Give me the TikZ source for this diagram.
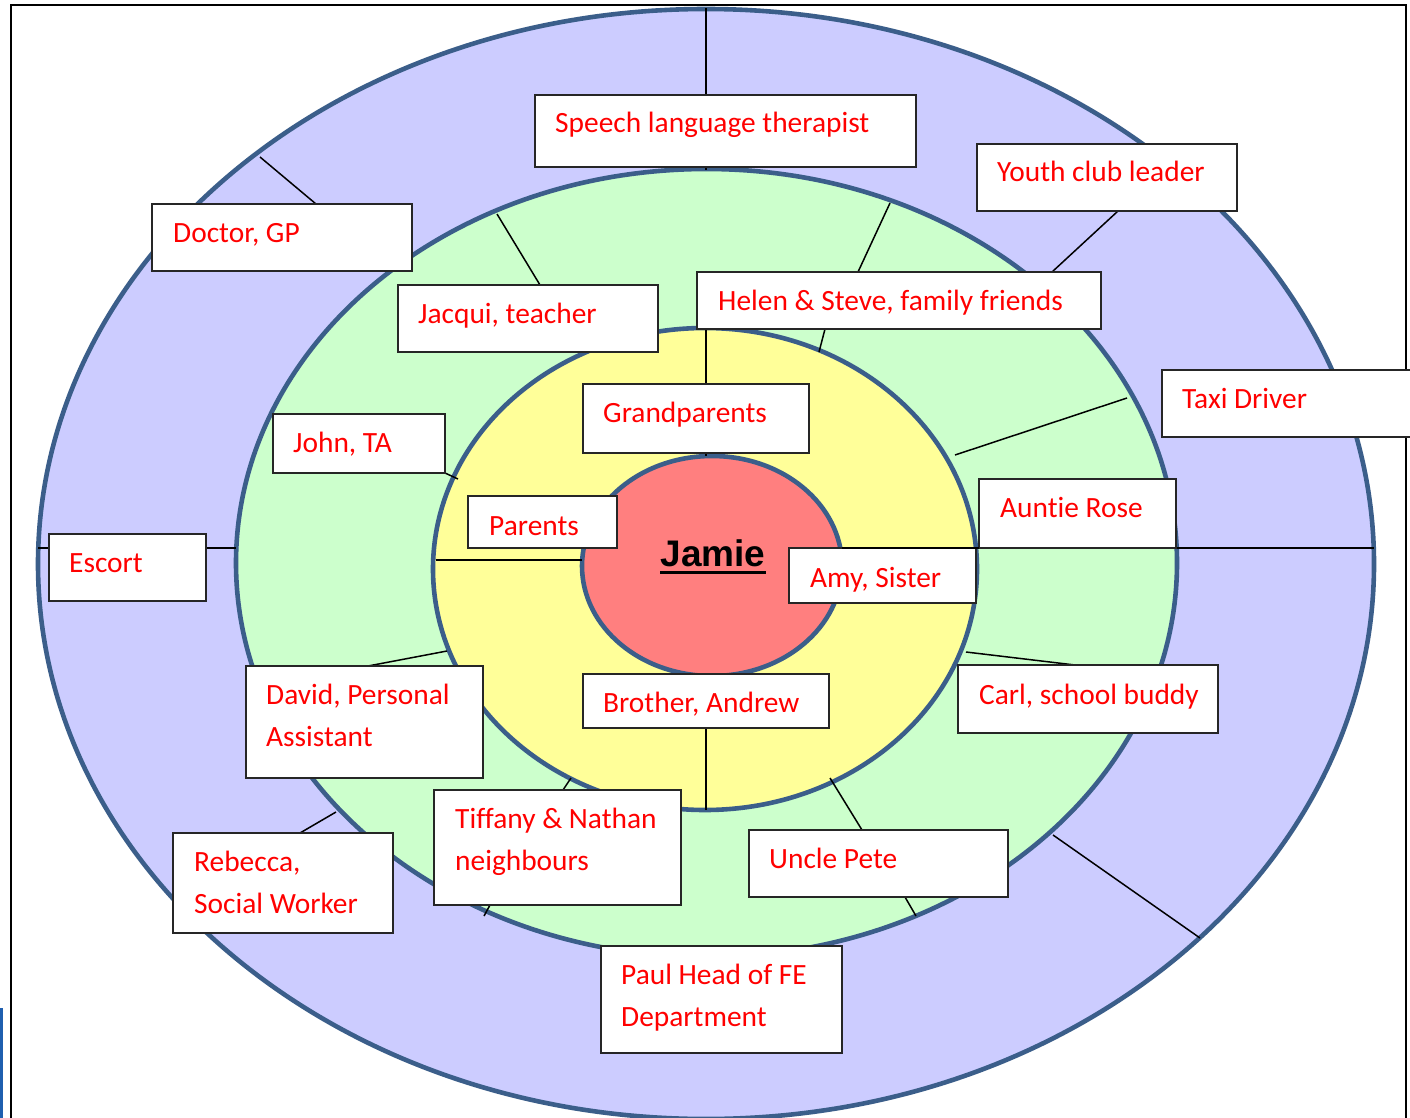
\documentclass[tikz,border=0pt]{standalone}
\usepackage{fontspec}
\setmainfont{Carlito}[Ligatures={NoCommon}]
\newfontfamily\jamiefont{Liberation Sans}
\definecolor{ringline}{HTML}{3B5E8A}
\definecolor{outerfill}{HTML}{CCCCFF}
\definecolor{midfill}{HTML}{CCFFCC}
\definecolor{innerfill}{HTML}{FFFF99}
\definecolor{corefill}{HTML}{FF7F7F}
\definecolor{edgeblue}{HTML}{1F5FAF}
\tikzset{
  ring/.style={draw=ringline, line width=4.6pt},
  conn/.style={draw=black, line width=1.5pt},
  labelbox/.style={draw=black!85, line width=1.3pt, fill=white, rectangle, anchor=north west, inner sep=0pt, outer sep=0pt},
  lbl/.style={text=red, font=\fontsize{29.4}{42}\selectfont, anchor=base west, inner sep=0pt},
}
\begin{document}
\begin{tikzpicture}[x=1pt, y=-1pt]
\useasboundingbox (0,0) rectangle (1410,1118);
\clip (0,0) rectangle (1410,1118);
\fill[white] (0,0) rectangle (1410,1118);
% frame
\draw[line width=1.5pt] (11,1130) -- (11,5) -- (1406,5) -- (1406,1130);
\draw[edgeblue, line width=3pt] (1,1008) -- (1,1125);
% rings
\draw[ring, fill=outerfill] (706,564) ellipse [x radius=668pt, y radius=555pt];
\draw[ring, fill=midfill] (706.5,563) ellipse [x radius=470.5pt, y radius=394pt];
\draw[ring, fill=innerfill] (705,569) ellipse [x radius=272pt, y radius=241pt];
\draw[ring, fill=corefill] (712,566) ellipse [x radius=130pt, y radius=110pt];
% coordinates on the rings
\coordinate (oTop) at (706,8);
\coordinate (gTop) at (706,170);
\coordinate (oDoc) at (260,157);
\coordinate (gJac) at (497,214);
\coordinate (gHel) at (890,203);
\coordinate (yHel) at (819,352);
\coordinate (gYou) at (1052,272);
\coordinate (yGra) at (706,329);
\coordinate (rGra) at (706,456);
\coordinate (yJoh) at (458,479);
\coordinate (yTax) at (955,455);
\coordinate (oTax) at (1127,398);
\coordinate (rAun) at (842,548);
\coordinate (oAun) at (1374,548);
\coordinate (oEsc) at (38,548);
\coordinate (gEsc) at (236,548);
\coordinate (yPar) at (436,560);
\coordinate (rPar) at (582,560);
\coordinate (yDav) at (447,651);
\coordinate (yCar) at (966,652);
\coordinate (yBro) at (706,810);
\coordinate (yTif) at (571,778);
\coordinate (gTif) at (484,916);
\coordinate (gReb) at (336,812);
\coordinate (yPet) at (830,778);
\coordinate (gPet) at (916,916);
\coordinate (gOut) at (1053,835);
\coordinate (oOut) at (1200,938);
% box-side coordinates
\coordinate (bSpT) at (706,95);
\coordinate (bSpB) at (706,167);
\coordinate (bDoc) at (316,204);
\coordinate (bJac) at (540,285);
\coordinate (bHelT) at (858,272);
\coordinate (bHelB) at (825,329);
\coordinate (bGraT) at (706,384);
\coordinate (bGraB) at (706,453);
\coordinate (bJoh) at (445,473);
\coordinate (bAun) at (979,548);
\coordinate (bAunR) at (1176,548);
\coordinate (bEscL) at (49,548);
\coordinate (bEscR) at (206,548);
\coordinate (bDav) at (368,666);
\coordinate (bCar) at (1075,665);
\coordinate (bBro) at (706,728);
\coordinate (bTifT) at (563,790);
\coordinate (bTifB) at (490,905);
\coordinate (bReb) at (300,833);
\coordinate (bPetT) at (862,830);
\coordinate (bPetB) at (905,897);
\coordinate (bYou) at (1118,211);
% connectors
\draw[conn] (oTop) -- (bSpT);
\draw[conn] (bSpB) -- (gTop);
\draw[conn] (oDoc) -- (bDoc);
\draw[conn] (gJac) -- (bJac);
\draw[conn] (gHel) -- (bHelT);
\draw[conn] (bHelB) -- (yHel);
\draw[conn] (bYou) -- (gYou);
\draw[conn] (yGra) -- (bGraT);
\draw[conn] (bGraB) -- (rGra);
\draw[conn] (bJoh) -- (yJoh);
\draw[conn] (yTax) -- (oTax);
\draw[conn] (bAunR) -- (oAun);
\draw[conn] (oEsc) -- (bEscL);
\draw[conn] (bEscR) -- (gEsc);
\draw[conn] (yPar) -- (rPar);
\draw[conn] (bDav) -- (yDav);
\draw[conn] (yCar) -- (bCar);
\draw[conn] (bBro) -- (yBro);
\draw[conn] (bTifT) -- (yTif);
\draw[conn] (bTifB) -- (gTif);
\draw[conn] (bReb) -- (gReb);
\draw[conn] (yPet) -- (bPetT);
\draw[conn] (bPetB) -- (gPet);
\draw[conn] (gOut) -- (oOut);
% boxes
\node[labelbox, minimum width=381pt, minimum height=72pt] (speech) at (535,95) {};
\node[labelbox, minimum width=260pt, minimum height=67pt] (youth) at (977,144) {};
\node[labelbox, minimum width=260pt, minimum height=67pt] (doctor) at (152,204) {};
\node[labelbox, minimum width=260pt, minimum height=67pt] (jacqui) at (398,285) {};
\node[labelbox, minimum width=404pt, minimum height=57pt] (helen) at (697,272) {};
\node[labelbox, minimum width=260pt, minimum height=67pt] (taxi) at (1162,370) {};
\node[labelbox, minimum width=226pt, minimum height=69pt] (grand) at (583,384) {};
\node[labelbox, minimum width=172pt, minimum height=59pt] (john) at (273,414) {};
\node[labelbox, minimum width=197pt, minimum height=69pt] (auntie) at (979,479) {};
\node[labelbox, minimum width=149pt, minimum height=52pt] (parents) at (468,496) {};
\node[labelbox, minimum width=157pt, minimum height=67pt] (escort) at (49,534) {};
\node[labelbox, minimum width=187pt, minimum height=55pt] (amy) at (789,548) {};
\draw[conn] (rAun) -- (bAun);
\node[labelbox, minimum width=237pt, minimum height=112pt] (david) at (246,666) {};
\node[labelbox, minimum width=260pt, minimum height=68pt] (carl) at (958,665) {};
\node[labelbox, minimum width=246pt, minimum height=54pt] (brother) at (583,674) {};
\node[labelbox, minimum width=247pt, minimum height=115pt] (tiffany) at (434,790) {};
\node[labelbox, minimum width=259pt, minimum height=67pt] (pete) at (749,830) {};
\node[labelbox, minimum width=220pt, minimum height=100pt] (rebecca) at (173,833) {};
\node[labelbox, minimum width=241pt, minimum height=107pt] (paul) at (601,946) {};
% labels
\node[lbl] (tSpeech) at (555,133) {Speech language therapist};
\node[lbl] (tYouth) at (997,182) {Youth club leader};
\node[lbl] (tDoctor) at (173,242) {Doctor, GP};
\node[lbl] (tJacqui) at (418,323) {Jacqui, teacher};
\node[lbl] (tHelen) at (718,310) {Helen \& Steve, family friends};
\node[lbl] (tTaxi) at (1182,408) {Taxi Driver};
\node[lbl] (tGrand) at (603,422) {Grandparents};
\node[lbl] (tJohn) at (293,452) {John, TA};
\node[lbl] (tAuntie) at (1000,517) {Auntie Rose};
\node[lbl] (tParents) at (489,535) {Parents};
\node[lbl] (tEscort) at (69,572) {Escort};
\node[lbl] (tAmy) at (810,587) {Amy, Sister};
\node[lbl] (tDavidA) at (266,704) {David, Personal};
\node[lbl] (tDavidB) at (266,746) {Assistant};
\node[lbl] (tCarl) at (979,704) {Carl, school buddy};
\node[lbl] (tBrother) at (603,712) {Brother, Andrew};
\node[lbl] (tTiffA) at (455,828) {Tiffany \& Nathan};
\node[lbl] (tTiffB) at (455,870) {neighbours};
\node[lbl] (tPete) at (769,868) {Uncle Pete};
\node[lbl] (tRebA) at (194,871) {Rebecca,};
\node[lbl] (tRebB) at (194,913) {Social Worker};
\node[lbl] (tPaulA) at (621,984) {Paul Head of FE};
\node[lbl] (tPaulB) at (621,1026) {Department};
% centre
\node[font=\jamiefont\bfseries\fontsize{37}{40}\selectfont, anchor=base, inner sep=0pt] (jamie) at (713,566) {Jamie};
\draw[line width=3pt] (jamie.base west) ++(0,6) coordinate (ulA) -- (ulA -| jamie.base east);
\end{tikzpicture}
\end{document}
